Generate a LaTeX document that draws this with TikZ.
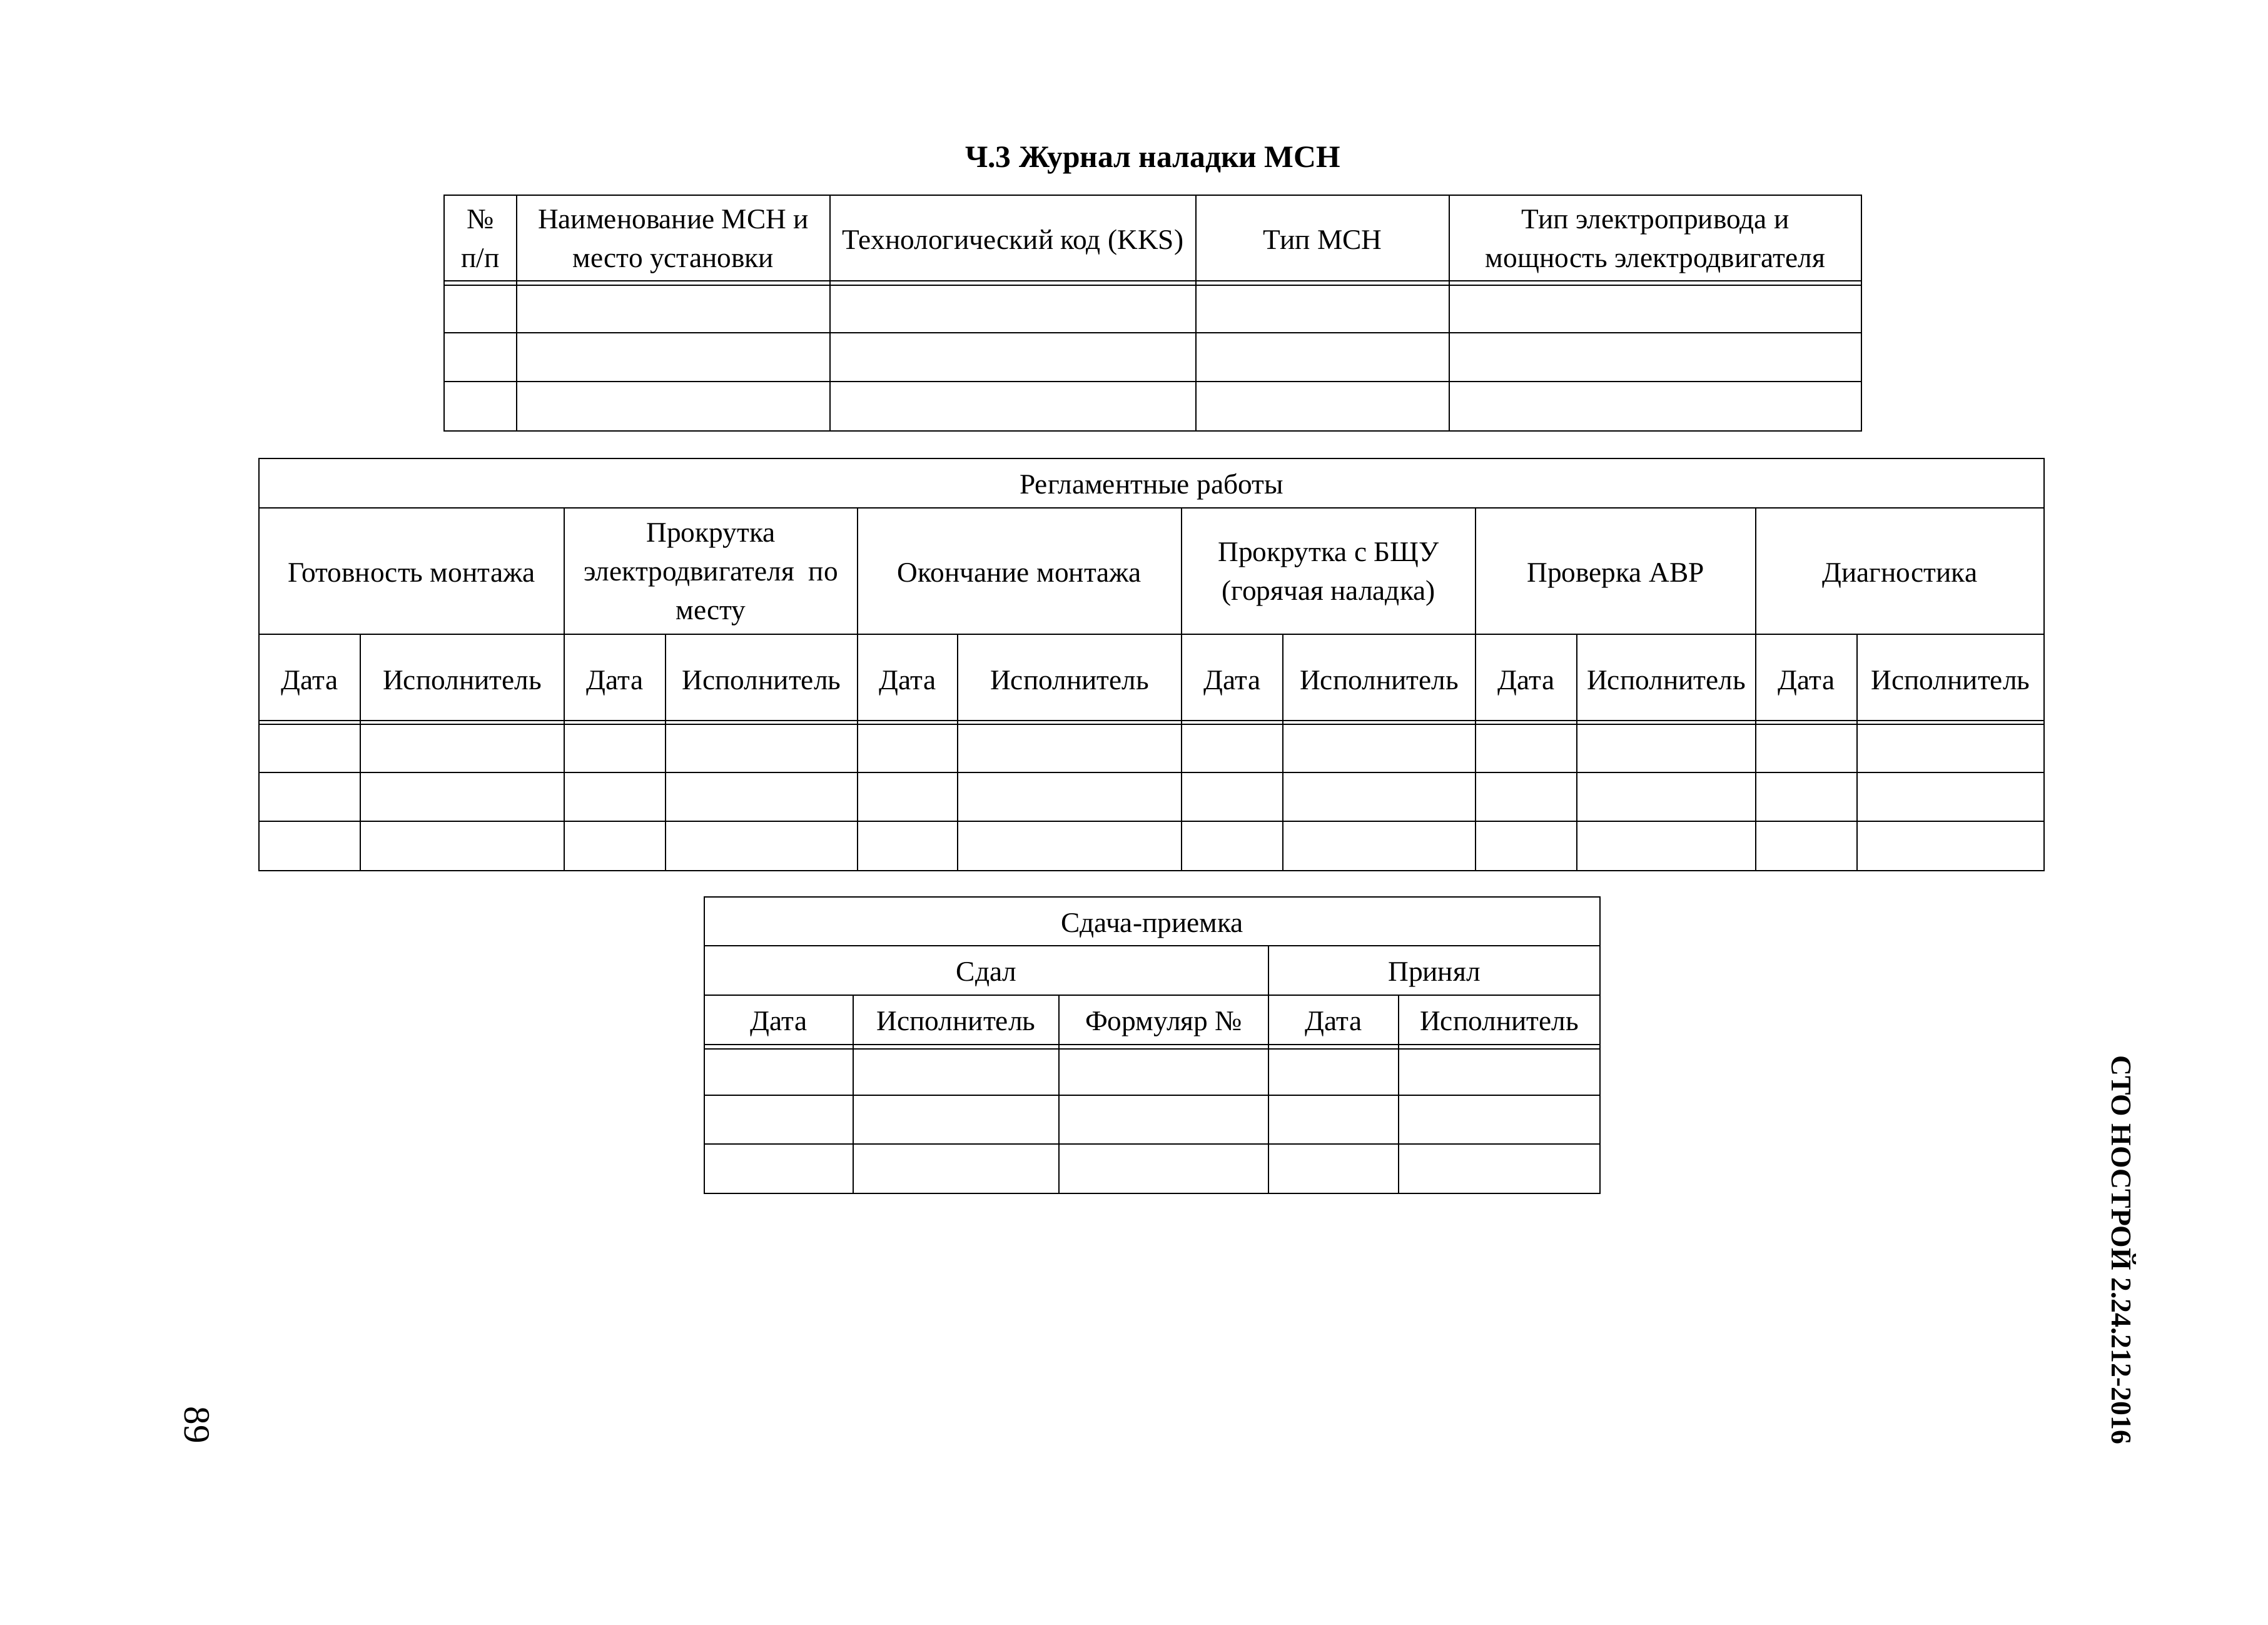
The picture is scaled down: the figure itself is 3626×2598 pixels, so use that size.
\documentclass[tikz,border=0pt]{standalone}
\usepackage{fontspec}
\setmainfont{Liberation Serif}
\begin{document}
\begin{tikzpicture}[x=0.01cm,y=-0.01cm,
  hl/.style={line width=0.8pt},
  vl/.style={line width=0.6pt},
  txt/.style={align=center, inner sep=0pt, font=\fontsize{12.9}{17.6}\selectfont,
    execute at begin node=\strut, execute at end node=\strut},
  ttl/.style={inner sep=0pt, font=\fontsize{14.1}{17}\selectfont\bfseries}
]
\fill[white] (0,0) rectangle (3626,2598);
\useasboundingbox (0,0) rectangle (3626,2598);

% title
\node[ttl, anchor=base] (title) at (1843,267.5) {Ч.3 Журнал наладки МСН};

% ---------- table 1 ----------
\draw[hl] (710,312) rectangle (2976,689);
\foreach \y in {449,456,532,610} \draw[hl] (710,\y) -- (2976,\y);
\foreach \x in {826,1327,1912,2317} \draw[vl] (\x,312) -- (\x,689);
\node[txt] (a1) at (768,391) {№\\п/п};
\node[txt] (a2) at (1076.5,391) {Наименование МСН и\\место установки};
\node[txt] (a3) at (1619.5,386) {Технологический код (KKS)};
\node[txt] (a4) at (2114.5,386) {Тип МСН};
\node[txt] (a5) at (2646.5,391) {Тип электропривода и\\мощность электродвигателя};

% ---------- table 2 ----------
\draw[hl] (414,733) rectangle (3268,1392);
\foreach \y in {812,1014,1152,1158,1235,1313} \draw[hl] (414,\y) -- (3268,\y);
\foreach \x in {902,1371,1889,2359,2807} \draw[vl] (\x,812) -- (\x,1392);
\foreach \x in {576,1064,1531,2051,2521,2969} \draw[vl] (\x,1014) -- (\x,1392);
\node[txt] (b0) at (1841,777) {Регламентные работы};
\node[txt] (b1) at (658,918) {Готовность монтажа};
\node[txt] (b2) at (1136.5,923) {Прокрутка\\электродвигателя\hspace{0.25em} по\\месту};
\node[txt] (b3) at (1630,918) {Окончание монтажа};
\node[txt] (b4) at (2124,923) {Прокрутка с БЩУ\\(горячая наладка)};
\node[txt] (b5) at (2583,918) {Проверка АВР};
\node[txt] (b6) at (3037.5,918) {Диагностика};
\foreach \x [count=\i] in {495,983,1451,1970,2440,2888}
  \node[txt] (bd\i) at (\x,1090) {Дата};
\foreach \x [count=\i] in {739,1217.5,1710,2205,2664,3118.5}
  \node[txt] (be\i) at (\x,1090) {Исполнитель};

% ---------- table 3 ----------
\draw[hl] (1126,1434) rectangle (2558,1908);
\foreach \y in {1512,1591,1670,1677,1751,1829} \draw[hl] (1126,\y) -- (2558,\y);
\draw[vl] (2028,1512) -- (2028,1908);
\foreach \x in {1364,1693,2236} \draw[vl] (\x,1591) -- (\x,1908);
\node[txt] (c0) at (1842,1478) {Сдача-приемка};
\node[txt] (c1) at (1577,1556.5) {Сдал};
\node[txt] (c2) at (2293,1556.5) {Принял};
\node[txt] (c3) at (1245,1635.5) {Дата};
\node[txt] (c4) at (1528.5,1635.5) {Исполнитель};
\node[txt] (c5) at (1860.5,1635.5) {Формуляр №};
\node[txt] (c6) at (2132,1635.5) {Дата};
\node[txt] (c7) at (2397,1635.5) {Исполнитель};

% ---------- margins ----------
\node[rotate=-90, inner sep=0pt, font=\fontsize{13}{15}\selectfont\bfseries] (std) at (3396,1998) {СТО НОСТРОЙ 2.24.212-2016};
\node[rotate=-90, inner sep=0pt, font=\fontsize{16.8}{18}\selectfont] (page) at (315,2278) {89};
\end{tikzpicture}
\end{document}
